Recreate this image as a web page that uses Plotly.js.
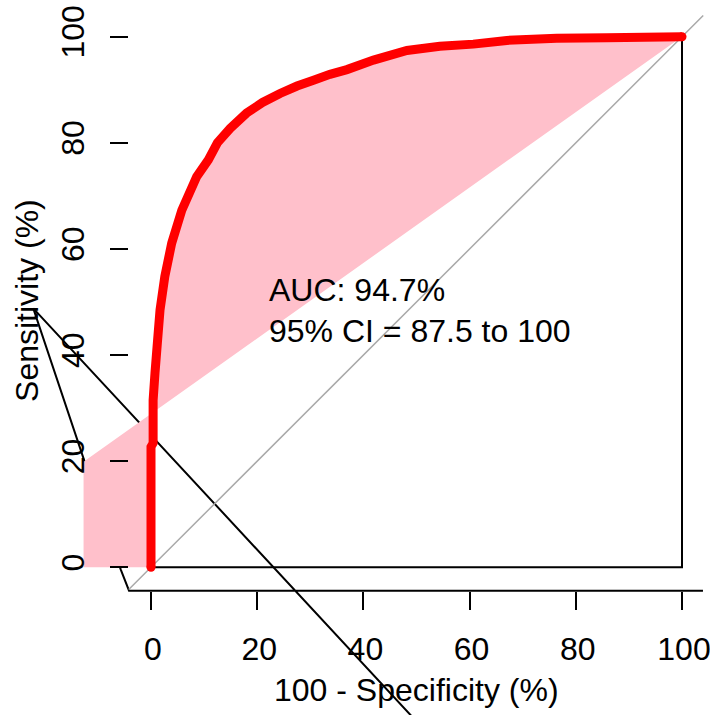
<!DOCTYPE html>
<html>
<head>
<meta charset="utf-8">
<script src="https://cdn.plot.ly/plotly-3.0.1.min.js"></script>
<style>html,body{margin:0;padding:0;background:#fff;}#chart{width:710px;height:715px;}</style>
</head>
<body>
<div id="chart"></div>
<script>
// ROC curve (100 - specificity %, sensitivity %)
const rocX = [0, 0, 0.4, 0.4, 0.75, 1.2, 1.7, 2.6, 3.9, 5.8, 8.6, 10.8, 12.5, 14.9, 18.0, 21.0, 24.3, 27.5, 30.6, 33.7, 36.9, 41.9, 48.2, 54.4, 60.7, 67.0, 76.4, 85.8, 100];
const rocY = [0, 22.7, 23.4, 31.5, 36.6, 42.3, 48.5, 54.8, 61.1, 67.3, 73.6, 76.8, 80.0, 82.7, 85.6, 87.6, 89.3, 90.7, 91.8, 92.9, 93.8, 95.6, 97.4, 98.2, 98.6, 99.3, 99.7, 99.8, 100];
// lower bound of the confidence band (closing the shaded shape)
const ciLowerX = [-12.7, -12.7];
const ciLowerY = [19.9, 0];
// reference diagonal
const diagX = [-4.2, 104];
const diagY = [-4.2, 104];
// frame line
const frameX = [0, 100, 100];
const frameY = [0, 0, 100];
// distorted axis line path
const axisPathX = [103.95, -4.14, -5.71, -22.17, 56.74];
const axisPathY = [-4.41, -4.41, -0.38, 48.81, -36.32];
// ticks
const tickVals = [0, 20, 40, 60, 80, 100];
const tickText = ["0", "20", "40", "60", "80", "100"];
// texts
const aucText = "AUC: 94.7%";
const ciText = "95% CI = 87.5 to 100";
const xTitle = "100 - Specificity (%)";
const yTitle = "Sensitivity (%)";

const FONT = "Liberation Sans, Arial, Helvetica, sans-serif";

const traces = [
  {x: axisPathX, y: axisPathY, mode: 'lines', line: {color: '#000', width: 2, simplify: false}, hoverinfo: 'skip'},
  {x: rocX.concat(ciLowerX), y: rocY.concat(ciLowerY), mode: 'lines', fill: 'toself',
   fillcolor: '#FFC0CB', line: {width: 0, color: 'rgba(0,0,0,0)', simplify: false}, hoverinfo: 'skip'},
  {x: diagX, y: diagY, mode: 'lines', line: {color: '#A9A9A9', width: 1.5}, hoverinfo: 'skip'},
  {x: frameX, y: frameY, mode: 'lines', line: {color: '#000', width: 2, simplify: false}, hoverinfo: 'skip'},
  {x: rocX, y: rocY, mode: 'lines', line: {color: '#FF0000', width: 9, simplify: false}, hoverinfo: 'skip'},
  {x: [rocX[0], rocX[rocX.length - 1]], y: [rocY[0], rocY[rocY.length - 1]], mode: 'markers',
   marker: {color: '#FF0000', size: 9}, hoverinfo: 'skip'}
];

const layout = {
  width: 710, height: 715,
  margin: {l: 0, r: 0, t: 0, b: 0},
  paper_bgcolor: '#fff', plot_bgcolor: '#fff',
  showlegend: false,
  font: {family: FONT, size: 32, color: '#000'},
  xaxis: {
    range: [-28.437, 105.273], anchor: 'free', position: 0.1738,
    tickvals: tickVals, ticktext: tickText, ticks: 'outside', ticklen: 18, tickwidth: 2, tickcolor: '#000',
    showline: false, showgrid: false, zeroline: false, ticklabelshift: 2, ticklabelstandoff: 12,
    ticklabeloverflow: 'allow',
    tickfont: {family: FONT, size: 32, color: '#000'}
  },
  yaxis: {
    range: [-27.836, 106.917], anchor: 'free', position: 0.1803,
    tickvals: tickVals, ticktext: tickText, ticks: 'outside', ticklen: 18, tickwidth: 2, tickcolor: '#000',
    tickangle: -90, ticklabelstandoff: 13, ticklabeloverflow: 'allow',
    showline: false, showgrid: false, zeroline: false,
    tickfont: {family: FONT, size: 32, color: '#000'}
  },
  annotations: [
    {x: 21.9, y: 52.3, xref: 'x', yref: 'y', text: aucText, showarrow: false, xanchor: 'left', yanchor: 'middle',
     font: {family: FONT, size: 32, color: '#000'}},
    {x: 21.9, y: 44.6, xref: 'x', yref: 'y', text: ciText, showarrow: false, xanchor: 'left', yanchor: 'middle',
     font: {family: FONT, size: 32, color: '#000'}},
    {x: 50, y: -23.2, xref: 'x', yref: 'y', text: xTitle, showarrow: false, xanchor: 'center', yanchor: 'middle',
     font: {family: FONT, size: 32, color: '#000'}},
    {x: -23.35, y: 50.2, xref: 'x', yref: 'y', text: yTitle, showarrow: false, textangle: -90,
     xanchor: 'center', yanchor: 'middle', font: {family: FONT, size: 32, color: '#000'}}
  ]
};

Plotly.newPlot('chart', traces, layout, {displayModeBar: false, staticPlot: true});
</script>
</body>
</html>
